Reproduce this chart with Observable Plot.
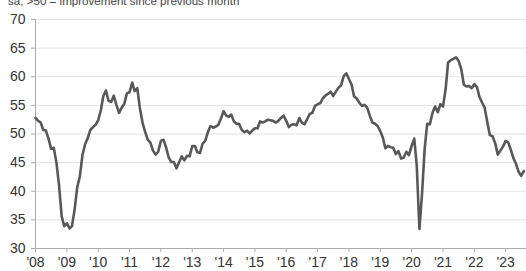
<!DOCTYPE html>
<html>
<head>
<meta charset="utf-8">
<script src="https://cdn.jsdelivr.net/npm/d3@7"></script>
<script src="https://cdn.jsdelivr.net/npm/@observablehq/plot@0.6"></script>
<style>
  html, body { margin: 0; padding: 0; background: #fff; overflow: hidden; }
  #wrap { position: relative; width: 526px; height: 271px; }
  #cap { position: absolute; left: 8px; top: -5px; font: 11.6px "Liberation Sans", Arial, sans-serif; line-height: 11px; color: #444; white-space: nowrap; }
  #chart { position: absolute; left: 0; top: 0; }
</style>
</head>
<body>
<div id="wrap">
  <div id="chart"></div>
  <div id="cap">sa, &gt;50 = improvement since previous month</div>
</div>
<script>
const startYear = 2008;
const v2008 = [52.8, 52.3, 52.0, 50.7, 50.6, 49.2, 47.4, 47.6, 45.0, 41.1, 35.6, 33.9];
const v2009 = [34.4, 33.5, 33.9, 36.8, 40.7, 42.6, 46.3, 48.2, 49.3, 50.7, 51.2, 51.6];
const v2010 = [52.4, 54.2, 56.6, 57.6, 55.8, 55.6, 56.7, 55.1, 53.7, 54.6, 55.3, 57.1];
const v2011 = [57.3, 59.0, 57.5, 58.0, 54.6, 52.0, 50.4, 49.0, 48.5, 47.1, 46.4, 46.9];
const v2012 = [48.8, 49.0, 47.7, 45.9, 45.1, 45.1, 44.0, 45.1, 46.1, 45.4, 46.2, 46.1];
const v2013 = [47.9, 47.9, 46.8, 46.7, 48.3, 48.8, 50.3, 51.4, 51.1, 51.3, 51.6, 52.7];
const v2014 = [54.0, 53.2, 53.0, 53.4, 52.2, 51.8, 51.8, 50.7, 50.3, 50.6, 50.1, 50.6];
const v2015 = [51.0, 51.0, 52.2, 52.0, 52.2, 52.5, 52.4, 52.3, 52.0, 52.3, 52.8, 53.2];
const v2016 = [52.3, 51.2, 51.6, 51.7, 51.5, 52.8, 52.0, 51.7, 52.6, 53.5, 53.7, 54.9];
const v2017 = [55.2, 55.4, 56.2, 56.7, 57.0, 57.4, 56.6, 57.4, 58.1, 58.5, 60.1, 60.6];
const v2018 = [59.6, 58.6, 56.6, 56.2, 55.5, 54.9, 55.1, 54.6, 53.2, 52.0, 51.8, 51.4];
const v2019 = [50.5, 49.3, 47.5, 47.9, 47.7, 47.6, 46.5, 47.0, 45.7, 45.9, 46.9, 46.3];
const v2020 = [47.9, 49.2, 44.5, 33.4, 39.4, 47.4, 51.8, 51.7, 53.7, 54.8, 53.8, 55.2];
const v2021 = [54.8, 57.9, 62.5, 62.9, 63.1, 63.4, 62.8, 61.4, 58.6, 58.3, 58.4, 58.0];
const v2022 = [58.7, 58.2, 56.5, 55.5, 54.6, 52.1, 49.8, 49.6, 48.4, 46.4, 47.1, 47.8];
const v2023 = [48.8, 48.5, 47.3, 45.8, 44.8, 43.4, 42.7, 43.5];
const yTicks = [30, 35, 40, 45, 50, 55, 60, 65, 70];
const xTickYears = [2008, 2009, 2010, 2011, 2012, 2013, 2014, 2015, 2016, 2017, 2018, 2019, 2020, 2021, 2022, 2023];
const xTickLabels = ["'08", "'09", "'10", "'11", "'12", "'13", "'14", "'15", "'16", "'17", "'18", "'19", "'20", "'21", "'22", "'23"];

const years = [v2008, v2009, v2010, v2011, v2012, v2013, v2014, v2015, v2016, v2017, v2018, v2019, v2020, v2021, v2022, v2023];
const data = [];
years.forEach((arr, yi) => arr.forEach((v, m) => data.push({date: new Date(startYear + yi, m, 1), value: v})));
const xTicks = xTickYears.map(y => new Date(y, 0, 1));

const chart = Plot.plot({
  width: 526,
  height: 271,
  marginTop: 19,
  marginBottom: 23,
  marginLeft: 35,
  marginRight: 0,
  style: {fontFamily: "'Liberation Sans', Arial, sans-serif", fontSize: "14px", color: "#333", background: "#fff"},
  x: {type: "utc", domain: [new Date(2008, 0, 1), new Date(2023, 8, 1)], label: null},
  y: {domain: [30, 70], label: null},
  marks: [
    Plot.ruleY(yTicks.filter(d => d > 30), {stroke: "#e2e2e2", strokeWidth: 1}),
    Plot.axisY({ticks: yTicks, tickSize: 4, tickPadding: 6, stroke: "#aaa", fill: "#333", label: null, fontSize: 14}),
    Plot.axisX({ticks: xTicks, tickFormat: (d, i) => xTickLabels[i], tickSize: 4, tickPadding: 5, stroke: "#aaa", fill: "#333", label: null, fontSize: 14}),
    Plot.ruleX([new Date(2008, 0, 1)], {stroke: "#aaa", strokeWidth: 1}),
    Plot.ruleY([30], {stroke: "#aaa", strokeWidth: 1}),
    Plot.line(data, {x: "date", y: "value", stroke: "#585858", strokeWidth: 2.6, strokeLinejoin: "round"})
  ]
});
document.getElementById("chart").appendChild(chart);
</script>
</body>
</html>
